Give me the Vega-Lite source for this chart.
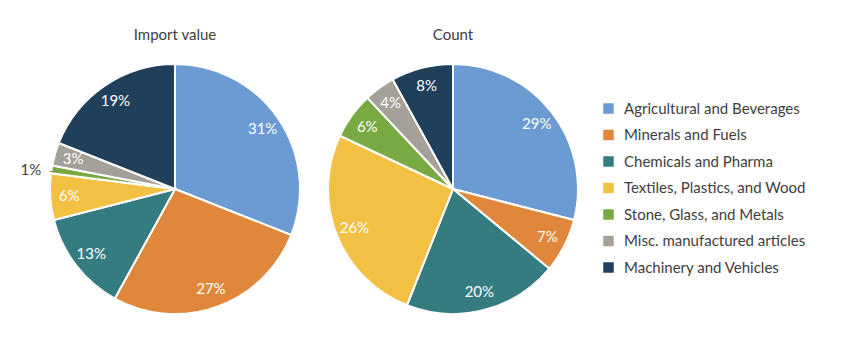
{
  "$schema": "https://vega.github.io/schema/vega-lite/v6.json",
  "padding": {"left": 20, "top": 28, "right": 0, "bottom": 0},
  "spacing": 20,
  "config": {"view": {"stroke": null}, "font": "Lato"},
  "data": {"values": [
    {"chart": "Import value", "k": 1, "cat": "Agricultural and Beverages", "v": 31, "lab": "31%"},
    {"chart": "Import value", "k": 2, "cat": "Minerals and Fuels", "v": 27, "lab": "27%"},
    {"chart": "Import value", "k": 3, "cat": "Chemicals and Pharma", "v": 13, "lab": "13%"},
    {"chart": "Import value", "k": 4, "cat": "Textiles, Plastics, and Wood", "v": 6, "lab": "6%"},
    {"chart": "Import value", "k": 5, "cat": "Stone, Glass, and Metals", "v": 1, "lab": "1%"},
    {"chart": "Import value", "k": 6, "cat": "Misc. manufactured articles", "v": 3, "lab": "3%"},
    {"chart": "Import value", "k": 7, "cat": "Machinery and Vehicles", "v": 19, "lab": "19%"},
    {"chart": "Count", "k": 1, "cat": "Agricultural and Beverages", "v": 29, "lab": "29%"},
    {"chart": "Count", "k": 2, "cat": "Minerals and Fuels", "v": 7, "lab": "7%"},
    {"chart": "Count", "k": 3, "cat": "Chemicals and Pharma", "v": 20, "lab": "20%"},
    {"chart": "Count", "k": 4, "cat": "Textiles, Plastics, and Wood", "v": 26, "lab": "26%"},
    {"chart": "Count", "k": 5, "cat": "Stone, Glass, and Metals", "v": 6, "lab": "6%"},
    {"chart": "Count", "k": 6, "cat": "Misc. manufactured articles", "v": 4, "lab": "4%"},
    {"chart": "Count", "k": 7, "cat": "Machinery and Vehicles", "v": 8, "lab": "8%"}
  ]},
  "hconcat": [
    {
      "title": {"text": "Import value", "offset": 17, "fontSize": 15, "fontWeight": "normal", "color": "#404040"},
      "width": 250, "height": 250,
      "transform": [{"filter": "datum.chart === 'Import value'"}],
      "layer": [
        {
          "mark": {"type": "arc", "stroke": "white", "strokeWidth": 2},
          "encoding": {
            "theta": {"field": "v", "type": "quantitative", "stack": true},
            "order": {"field": "k", "type": "quantitative"},
            "color": {"field": "cat", "type": "nominal",
              "scale": {"domain": ["Agricultural and Beverages", "Minerals and Fuels", "Chemicals and Pharma", "Textiles, Plastics, and Wood", "Stone, Glass, and Metals", "Misc. manufactured articles", "Machinery and Vehicles"],
                        "range": ["#6b9bd2", "#e1873b", "#357c80", "#f2c143", "#79a942", "#a5a199", "#1f3f5a"]},
              "legend": {"orient": "none", "legendX": 551, "legendY": 37, "title": null, "symbolType": "square", "symbolSize": 110, "symbolStrokeWidth": 0, "labelFontSize": 15, "labelColor": "#404040", "rowPadding": 10.5, "labelOffset": 8, "labelLimit": 300}
            }
          }
        },
        {
          "mark": {"type": "text", "radius": 106, "fill": "white", "fontSize": 15},
          "encoding": {
            "theta": {"field": "v", "type": "quantitative", "stack": true},
            "order": {"field": "k", "type": "quantitative"},
            "text": {"field": "lab", "type": "nominal", "condition": {"test": "datum.v < 2", "value": ""}}
          }
        },
        {
          "mark": {"type": "text", "radius": 146, "fill": "#404040", "fontSize": 15, "dy": 4},
          "encoding": {
            "theta": {"field": "v", "type": "quantitative", "stack": true},
            "order": {"field": "k", "type": "quantitative"},
            "text": {"field": "lab", "type": "nominal", "condition": {"test": "datum.v >= 2", "value": ""}}
          }
        },
        {
          "mark": {"type": "text", "radius": 123, "fill": "#7a7a7a", "fontSize": 12, "dy": 1},
          "encoding": {
            "theta": {"field": "v", "type": "quantitative", "stack": true},
            "order": {"field": "k", "type": "quantitative"},
            "text": {"condition": {"test": "datum.v < 2", "value": "—"}, "value": ""}
          }
        }
      ]
    },
    {
      "title": {"text": "Count", "offset": 17, "fontSize": 15, "fontWeight": "normal", "color": "#404040"},
      "width": 250, "height": 250,
      "transform": [{"filter": "datum.chart === 'Count'"}],
      "layer": [
        {
          "mark": {"type": "arc", "stroke": "white", "strokeWidth": 2},
          "encoding": {
            "theta": {"field": "v", "type": "quantitative", "stack": true},
            "order": {"field": "k", "type": "quantitative"},
            "color": {"field": "cat", "type": "nominal"}
          }
        },
        {
          "mark": {"type": "text", "radius": 106, "fill": "white", "fontSize": 15},
          "encoding": {
            "theta": {"field": "v", "type": "quantitative", "stack": true},
            "order": {"field": "k", "type": "quantitative"},
            "text": {"field": "lab", "type": "nominal"}
          }
        }
      ]
    }
  ]
}
